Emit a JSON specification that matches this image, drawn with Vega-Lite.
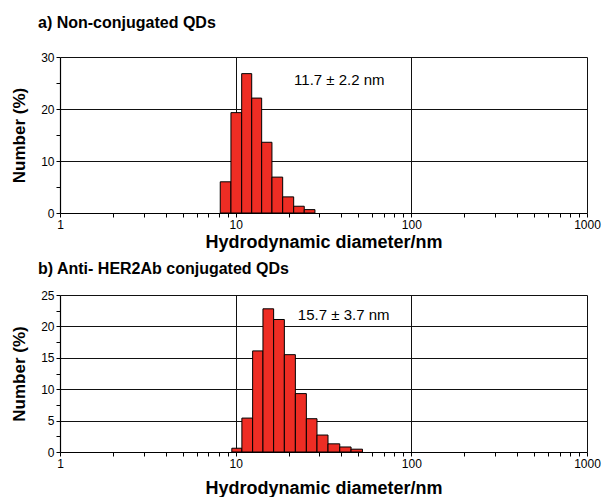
{
  "$schema": "https://vega.github.io/schema/vega-lite/v6.json",
  "padding": {"left": 10, "top": 15, "right": 5, "bottom": 5},
  "config": {
    "font": "Liberation Sans",
    "view": {"stroke": null},
    "concat": {"spacing": 10},
    "axis": {
      "domainColor": "#000000",
      "domainWidth": 1.2,
      "tickColor": "#000000",
      "tickSize": 4,
      "labelColor": "#000000",
      "labelFontSize": 12,
      "labelPadding": 2,
      "labelOverlap": false,
      "labelFlush": false,
      "titleColor": "#000000",
      "titleFontWeight": "bold",
      "titleFontSize": 17,
      "gridColor": "#111111",
      "gridWidth": 1
    }
  },
  "resolve": {"scale": {"x": "independent", "y": "independent"}, "axis": {"x": "independent", "y": "independent"}},
  "vconcat": [
    {
      "width": 527,
      "height": 156,
      "title": {"text": "a) Non-conjugated QDs", "anchor": "start", "frame": "group", "dx": -22, "fontSize": 16, "fontWeight": "bold", "offset": 20, "color": "#000000"},
      "encoding": {
        "x": {"field": "lo", "type": "quantitative", "scale": {"type": "log", "domain": [1, 1000], "nice": false},
          "axis": {"title": "Hydrodynamic diameter/nm", "titlePadding": 3, "titleFontSize": 18,
            "values": [1,2,3,4,5,6,7,8,9,10,20,30,40,50,60,70,80,90,100,200,300,400,500,600,700,800,900,1000],
            "labelExpr": "(datum.value==1||datum.value==10||datum.value==100||datum.value==1000) ? format(datum.value,'d') : ''",
            "grid": true,
            "gridOpacity": {"condition": {"test": "datum.value==10||datum.value==100||datum.value==1000", "value": 1}, "value": 0}}},
        "y": {"field": "pct", "type": "quantitative", "scale": {"domain": [0, 30], "nice": false},
          "axis": {"title": "Number (%)", "titlePadding": 12,
            "values": [0,5,10,15,20,25,30],
            "labelExpr": "datum.value % 10 == 0 ? datum.label : ''",
            "grid": true,
            "gridOpacity": {"condition": {"test": "datum.value==10||datum.value==20||datum.value==30", "value": 1}, "value": 0}}}
      },
      "layer": [
        {
          "data": {"values": [
            {"lo": 8.17, "hi": 9.40, "pct": 6.0},
            {"lo": 9.40, "hi": 10.82, "pct": 19.3},
            {"lo": 10.82, "hi": 12.34, "pct": 26.8},
            {"lo": 12.34, "hi": 14.06, "pct": 22.1},
            {"lo": 14.06, "hi": 16.09, "pct": 13.6},
            {"lo": 16.09, "hi": 18.52, "pct": 6.9},
            {"lo": 18.52, "hi": 21.39, "pct": 3.1},
            {"lo": 21.39, "hi": 24.57, "pct": 1.3},
            {"lo": 24.57, "hi": 28.27, "pct": 0.65}
          ]},
          "mark": {"type": "rect", "fill": "#EE2D24", "stroke": "#000000", "strokeWidth": 1},
          "encoding": {
            "x2": {"field": "hi"},
            "y2": {"datum": 0}
          }
        },
        {
          "data": {"values": [{"lo": 21.5, "pct": 25.6, "label": "11.7 ± 2.2 nm"}]},
          "mark": {"type": "text", "align": "left", "baseline": "middle", "fontSize": 15, "color": "#000000"},
          "encoding": {
            "text": {"field": "label"}
          }
        }
      ]
    },
    {
      "width": 527,
      "height": 157,
      "title": {"text": "b) Anti- HER2Ab conjugated QDs", "anchor": "start", "frame": "group", "dx": -22, "fontSize": 16, "fontWeight": "bold", "offset": 12, "color": "#000000"},
      "encoding": {
        "x": {"field": "lo", "type": "quantitative", "scale": {"type": "log", "domain": [1, 1000], "nice": false},
          "axis": {"title": "Hydrodynamic diameter/nm", "titlePadding": 10, "titleFontSize": 18,
            "values": [1,2,3,4,5,6,7,8,9,10,20,30,40,50,60,70,80,90,100,200,300,400,500,600,700,800,900,1000],
            "labelExpr": "(datum.value==1||datum.value==10||datum.value==100||datum.value==1000) ? format(datum.value,'d') : ''",
            "grid": true,
            "gridOpacity": {"condition": {"test": "datum.value==10||datum.value==100||datum.value==1000", "value": 1}, "value": 0}}},
        "y": {"field": "pct", "type": "quantitative", "scale": {"domain": [0, 25], "nice": false},
          "axis": {"title": "Number (%)", "titlePadding": 12,
            "values": [0,2.5,5,7.5,10,12.5,15,17.5,20,22.5,25],
            "labelExpr": "datum.value % 5 == 0 ? datum.label : ''",
            "grid": true,
            "gridOpacity": {"condition": {"test": "datum.value % 5 == 0 && datum.value > 0", "value": 1}, "value": 0}}}
      },
      "layer": [
        {
          "data": {"values": [
            {"lo": 9.51, "hi": 10.85, "pct": 0.6},
            {"lo": 10.85, "hi": 12.49, "pct": 5.4},
            {"lo": 12.49, "hi": 14.30, "pct": 16.1},
            {"lo": 14.30, "hi": 16.45, "pct": 22.8},
            {"lo": 16.45, "hi": 18.93, "pct": 21.1},
            {"lo": 18.93, "hi": 21.87, "pct": 15.5},
            {"lo": 21.87, "hi": 25.26, "pct": 9.3},
            {"lo": 25.26, "hi": 29.04, "pct": 5.3},
            {"lo": 29.04, "hi": 33.55, "pct": 2.7},
            {"lo": 33.55, "hi": 39.13, "pct": 1.3},
            {"lo": 39.13, "hi": 45.38, "pct": 0.8},
            {"lo": 45.38, "hi": 52.71, "pct": 0.45}
          ]},
          "mark": {"type": "rect", "fill": "#EE2D24", "stroke": "#000000", "strokeWidth": 1},
          "encoding": {
            "x2": {"field": "hi"},
            "y2": {"datum": 0}
          }
        },
        {
          "data": {"values": [{"lo": 22.6, "pct": 21.8, "label": "15.7 ± 3.7 nm"}]},
          "mark": {"type": "text", "align": "left", "baseline": "middle", "fontSize": 15, "color": "#000000"},
          "encoding": {
            "text": {"field": "label"}
          }
        }
      ]
    }
  ]
}
